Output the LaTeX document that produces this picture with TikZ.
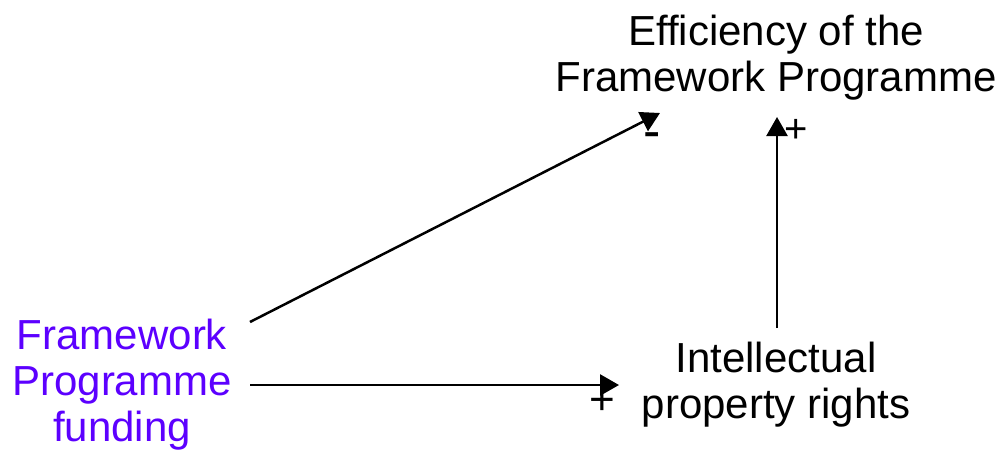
\documentclass[tikz,border=0pt]{standalone}
\usepackage{fontspec}
\setmainfont{Liberation Sans}
\usetikzlibrary{arrows.meta}
\definecolor{fundcol}{RGB}{92,0,255}
\begin{document}
\begin{tikzpicture}[x=1pt,y=-1pt,
  lbl/.style={inner sep=0pt,align=center,font=\fontsize{42}{46}\selectfont},
  pol/.style={inner sep=0pt},
  link/.style={line width=2.5pt,-{Triangle[length=19pt,width=21pt]}}]
\useasboundingbox (0,0) rectangle (1002,453);
\node[lbl] (eff) at (776,58) {Efficiency of the\\Framework Programme};
\node[lbl,text=fundcol] (fund) at (122,385) {Framework\\Programme\\funding};
\node[lbl] (ipr) at (776,385) {Intellectual\\property rights};
\coordinate (effL) at (660,113);
\coordinate (effB) at (777,117);
\coordinate (iprL) at (619,385);
\coordinate (fundT) at (250,322);
\coordinate (fundR) at (250,385);
\coordinate (iprT) at (777,328);
\draw[link] (fundT) -- (effL);
\draw[link] (fundR) -- (iprL);
\draw[link] (iprT) -- (effB);
\node[pol,font=\fontsize{52}{52}\selectfont] (m1) at (652,141) {-};
\node[pol,font=\fontsize{40}{40}\selectfont] (p1) at (796,131) {+};
\node[pol,font=\fontsize{44}{44}\selectfont] (p2) at (602,402) {+};
\end{tikzpicture}
\end{document}
